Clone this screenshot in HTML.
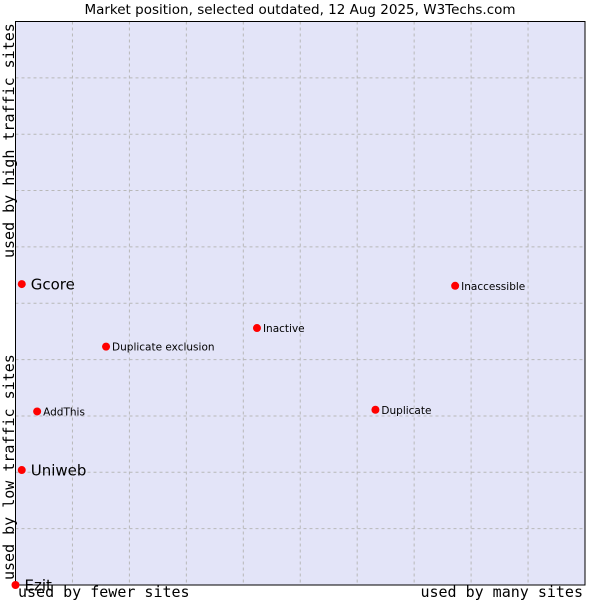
<!DOCTYPE html>
<html><head><meta charset="utf-8"><style>
html,body{margin:0;padding:0;background:#fff;}
svg{display:block;}
</style></head><body>
<svg width="600" height="600" viewBox="0 0 600 600" xmlns="http://www.w3.org/2000/svg">
<rect x="0" y="0" width="600" height="600" fill="#fff"/>
<text x="300" y="14" text-anchor="middle" font-family="DejaVu Sans, Liberation Sans, sans-serif" font-size="13.5" fill="#000">Market position, selected outdated, 12 Aug 2025, W3Techs.com</text>
<rect x="15.5" y="21.5" width="569.5" height="563.5" fill="#e3e4f8"/>
<g id="grid"></g>
<rect x="15.5" y="21.5" width="569.5" height="563.5" fill="none" stroke="#000" stroke-width="1"/>
<text transform="translate(14,258) rotate(-90)" font-family="DejaVu Sans Mono, Liberation Mono, monospace" font-size="15" fill="#000">used by high traffic sites</text>
<text transform="translate(14,580) rotate(-90)" font-family="DejaVu Sans Mono, Liberation Mono, monospace" font-size="15" fill="#000">used by low traffic sites</text>
<text x="18" y="597" font-family="DejaVu Sans Mono, Liberation Mono, monospace" font-size="15" fill="#000">used by fewer sites</text>
<text x="583" y="597" text-anchor="end" font-family="DejaVu Sans Mono, Liberation Mono, monospace" font-size="15" fill="#000">used by many sites</text>
<g id="points"></g>
</svg>
<script>
const names = ["Gcore","Uniweb","Ezit","AddThis","Duplicate exclusion","Inactive","Inaccessible","Duplicate"];
const xValues = [1.1, 1.1, 0, 3.8, 15.9, 42.4, 77.2, 63.2];
const yValues = [53.4, 20.4, 0, 30.8, 42.3, 45.6, 53.1, 31.1];
const bigLabels = [true, true, true, false, false, false, false, false];

const NS = "http://www.w3.org/2000/svg";
const L = 15.5, T = 21.5, W = 569.5, H = 563.5;
function sx(v){ return L + v / 100 * W; }
function sy(v){ return T + H - v / 100 * H; }

const grid = document.getElementById('grid');
for (let i = 1; i < 10; i++) {
  const gx = document.createElementNS(NS, 'line');
  
  
  gx.setAttribute('x1', sx(i*10)); gx.setAttribute('x2', sx(i*10));
  gx.setAttribute('y1', T); gx.setAttribute('y2', T + H);
  gx.setAttribute('stroke', '#b8b8b8'); gx.setAttribute('stroke-dasharray', '3,3');
  grid.appendChild(gx);
  const gy = document.createElementNS(NS, 'line');
  
  
  gy.setAttribute('x1', L); gy.setAttribute('x2', L + W);
  gy.setAttribute('y1', sy(i*10)); gy.setAttribute('y2', sy(i*10));
  gy.setAttribute('stroke', '#b8b8b8'); gy.setAttribute('stroke-dasharray', '3,3');
  grid.appendChild(gy);
}

const pts = document.getElementById('points');
for (let i = 0; i < names.length; i++) {
  const cx = sx(xValues[i]), cy = sy(yValues[i]);
  const c = document.createElementNS(NS, 'circle');
  
  
  c.setAttribute('cx', cx); c.setAttribute('cy', cy); c.setAttribute('r', 4);
  c.setAttribute('fill', '#ff0000');
  pts.appendChild(c);
  const t = document.createElementNS(NS, 'text');
  
  
  t.setAttribute('x', cx + (bigLabels[i] ? 9 : 6));
  t.setAttribute('y', cy + (bigLabels[i] ? 5.5 : 4));
  t.setAttribute('font-family', 'DejaVu Sans, Liberation Sans, sans-serif');
  t.setAttribute('font-size', bigLabels[i] ? 15 : 10.5);
  t.setAttribute('fill', '#000');
  t.textContent = names[i];
  pts.appendChild(t);
}
</script>
</body></html>
